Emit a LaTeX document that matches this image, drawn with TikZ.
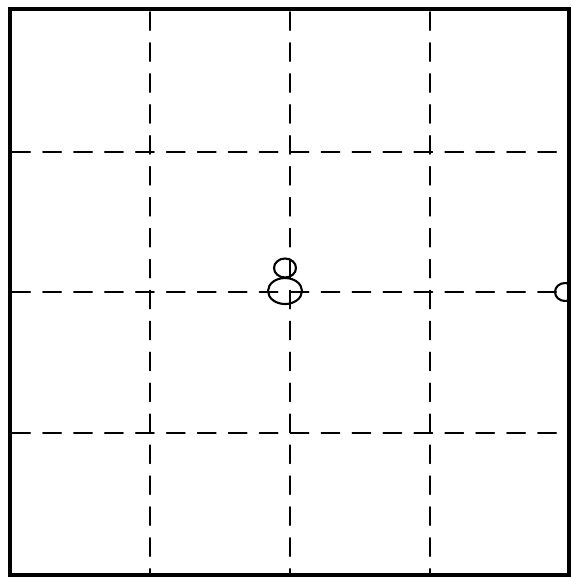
\documentclass[tikz,border=0pt]{standalone}
\usepackage{tikz}
\usetikzlibrary{calc}

\begin{document}
\begin{tikzpicture}
[x=0.025cm, y=-0.025cm, line cap=round,
			grid/.style={dash pattern=on 13 off 9, line width=1.1pt},
			ring/.style={line width=1.5pt}]
\useasboundingbox (0,0) rectangle (572,578);

% frame corners
\coordinate (tl) at (10,9);
\coordinate (br) at (569,575);

% dashed grid
\foreach \x in {150,290,430}
	\draw[grid] (\x,12) -- (\x,573);
\foreach \y in {152,292,433}
	\draw[grid] (12,\y) -- (567,\y);

% the two rings in the middle
\draw[ring] (285,268) ellipse [x radius=11, y radius=9.5];
\draw[ring] (285,291) ellipse [x radius=17, y radius=13];

% ring cut by the right edge
\begin{scope}
\clip (tl) rectangle (br);
\draw[ring] (565,292) ellipse [x radius=10, y radius=9];
\end{scope}

\draw[line width=2.2pt] (tl) rectangle (br);

\end{tikzpicture}
\end{document}
